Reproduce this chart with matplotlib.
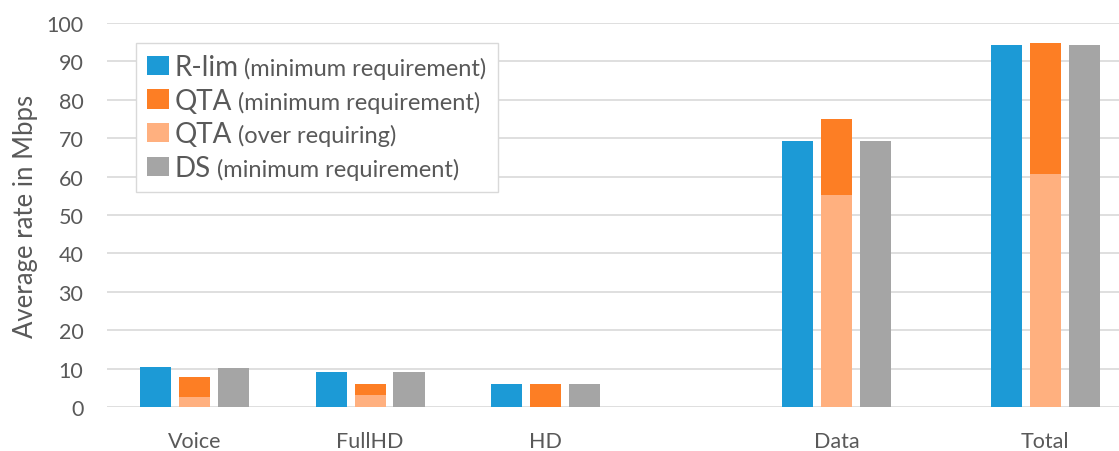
import numpy as np
import matplotlib
matplotlib.use("Agg")
import matplotlib.pyplot as plt
from matplotlib.patches import Rectangle
from matplotlib.offsetbox import (AnchoredOffsetbox, DrawingArea, HPacker,
                                  TextArea, VPacker)

plt.rcParams['font.family'] = ['Lato', 'DejaVu Sans']

# Data
categories = ["Voice", "FullHD", "HD", "Data", "Total"]
rlim_min = [10.3, 9.0, 6.1, 69.2, 94.4]
qta_over = [2.6, 3.2, 0.0, 55.3, 60.8]
qta_total = [7.8, 6.1, 6.1, 75.0, 94.7]
ds_min = [10.1, 9.0, 6.1, 69.2, 94.4]
qta_min = [t - o for t, o in zip(qta_total, qta_over)]

# layout: category centres are unevenly spaced in the original picture
cat_pos = np.array([0.0, 1.0, 2.0, 3.66, 4.85])
bar_w = 0.177
step = 0.222

c_blue = "#1c9ad6"
c_orange = "#fd7e24"
c_light = "#ffb07f"
c_gray = "#a5a5a5"
text_col = "#595959"

fig = plt.figure(figsize=(11.19, 4.52), dpi=100)
ax = fig.add_axes([107 / 1119, 44 / 452, 1 - 107 / 1119, 384 / 452])

ax.bar(cat_pos - step, rlim_min, bar_w, color=c_blue, zorder=3)
ax.bar(cat_pos, qta_over, bar_w, color=c_light, zorder=3)
ax.bar(cat_pos, qta_min, bar_w, bottom=qta_over, color=c_orange, zorder=3)
ax.bar(cat_pos + step, ds_min, bar_w, color=c_gray, zorder=3)

ax.set_ylim(0, 100)
ax.set_xlim(-0.5, 5.27)
ax.set_yticks(range(0, 101, 10))
ax.set_xticks(cat_pos)
ax.set_xticklabels(categories)
ax.yaxis.grid(True, color="#d9d9d9", linewidth=1.2, zorder=0)
ax.set_axisbelow(True)
for s in ax.spines.values():
    s.set_visible(False)
ax.tick_params(axis="both", length=0, labelsize=15.5, colors=text_col)
ax.tick_params(axis="y", pad=17)
ax.tick_params(axis="x", pad=17)
ax.set_ylabel("Average rate in Mbps", fontsize=18.5, color=text_col, labelpad=6)

# legend with mixed font sizes
entries = [
    (c_blue, "R-lim", "(minimum requirement)"),
    (c_orange, "QTA", "(minimum requirement)"),
    (c_light, "QTA", "(over requiring)"),
    (c_gray, "DS", "(minimum requirement)"),
]
rows = []
for col, big, small in entries:
    da = DrawingArea(16, 14, 0, 0)
    da.add_artist(Rectangle((0, 0), 16, 14, facecolor=col, edgecolor="none"))
    t1 = TextArea(big, textprops=dict(fontsize=20, color=text_col))
    t2 = TextArea(small, textprops=dict(fontsize=17, color=text_col))
    rows.append(HPacker(children=[da, t1, t2], align="baseline", pad=0, sep=4))
box = VPacker(children=rows, align="left", pad=0, sep=5.5)
anch = AnchoredOffsetbox(loc="upper left", child=box, pad=0.8, borderpad=0,
                         frameon=True, bbox_to_anchor=(136 / 1119, 1 - 44 / 452),
                         bbox_transform=fig.transFigure)
anch.patch.set_edgecolor("#d9d9d9")
anch.patch.set_facecolor("white")
anch.patch.set_linewidth(1.0)
anch.patch.set_boxstyle("square", pad=0)
anch.set_zorder(5)
ax.add_artist(anch)

fig.savefig("out.png", dpi=100)
